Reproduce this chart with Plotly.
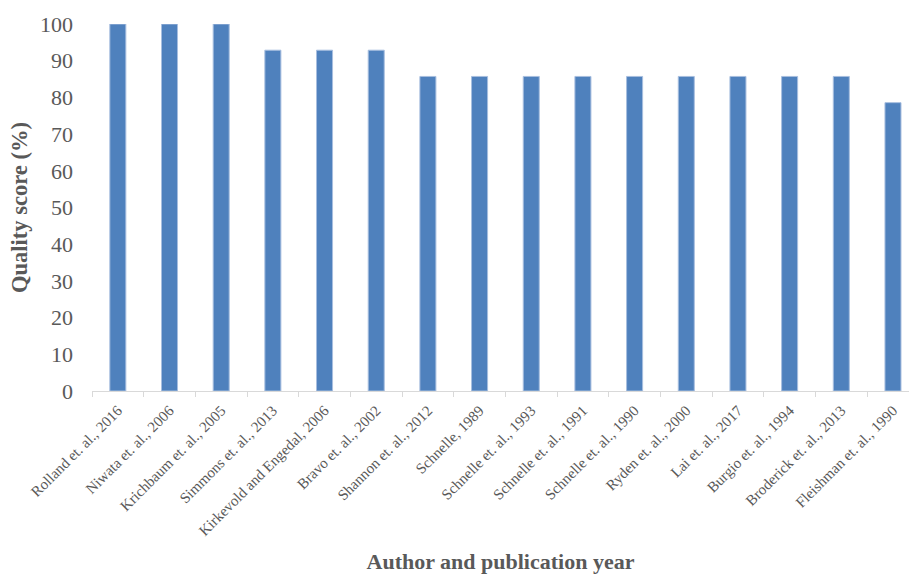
import plotly.graph_objects as go

authors = [
    "Rolland et. al., 2016", "Niwata et. al., 2006", "Krichbaum et. al., 2005",
    "Simmons et. al., 2013", "Kirkevold and Engedal, 2006", "Bravo et. al., 2002",
    "Shannon et. al., 2012", "Schnelle, 1989", "Schnelle et. al., 1993",
    "Schnelle et. al., 1991", "Schnelle et. al., 1990", "Ryden et. al., 2000",
    "Lai et. al., 2017", "Burgio et. al., 1994", "Broderick et. al., 2013",
    "Fleishman et. al., 1990",
]
scores = [100, 100, 100, 92.86, 92.86, 92.86, 85.71, 85.71, 85.71,
          85.71, 85.71, 85.71, 85.71, 85.71, 85.71, 78.57]
y_ticks = list(range(0, 101, 10))

font = "Liberation Serif"

fig = go.Figure(go.Bar(
    x=authors, y=scores,
    marker=dict(color="#4F81BD", line=dict(color="#A7BEDF", width=1)),
))

fig.update_layout(
    width=909, height=574,
    margin=dict(l=92, r=0, t=24, b=183),
    paper_bgcolor="white", plot_bgcolor="white",
    bargap=0.69,
    showlegend=False,
    font=dict(family=font, color="#595959"),
)
fig.update_xaxes(
    type="category",
    range=[-0.5, 15.31],
    automargin=False,
    tickson="boundaries",
    ticks="outside", ticklen=5, tickcolor="#D9D9D9",
    showline=True, linecolor="#D9D9D9", linewidth=1,
    showgrid=False,
    tickangle=-45,
    tickfont=dict(family=font, size=15, color="#595959"),
    ticklabelstandoff=4,
    title=dict(text="<b>Author and publication year</b>",
               font=dict(family=font, size=22, color="#595959"), standoff=28),
)
fig.update_yaxes(
    range=[0, 100],
    automargin=False,
    tickvals=y_ticks,
    showline=False, showgrid=False, zeroline=False,
    ticks="",
    tickfont=dict(family=font, size=22, color="#595959"),
    ticklabelstandoff=18,
    title=dict(text="<b>Quality score (%)</b>",
               font=dict(family=font, size=22.5, color="#595959"), standoff=6),
)

fig.write_html("out.html")
